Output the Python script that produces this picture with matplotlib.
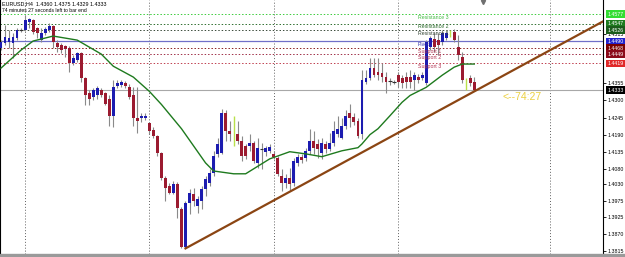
import numpy as np
import pandas as pd
from matplotlib import pyplot as plt

# EURUSD H4 candles, oldest first
opens = [1.4468, 1.4485, 1.4488, 1.4485, 1.4501, 1.4527, 1.4527, 1.4553, 1.4559, 1.4533,
         1.4494, 1.4517, 1.4527, 1.4540, 1.4485, 1.4478, 1.4475, 1.4468, 1.4420, 1.4430,
         1.4452, 1.4371, 1.4323, 1.4310, 1.4316, 1.4332, 1.4323, 1.4306, 1.4251, 1.4345,
         1.4349, 1.4355, 1.4342, 1.4316, 1.4245, 1.4245, 1.4245, 1.4226, 1.4206, 1.4186,
         1.4132, 1.4051, 1.4025, 1.4002, 1.4031, 1.3950, 1.3830, 1.3970, 1.3999, 1.3960,
         1.3976, 1.4015, 1.4034, 1.4067, 1.4128, 1.4132, 1.4261, 1.4203, 1.4203, 1.4193,
         1.4171, 1.4154, 1.4154, 1.4164, 1.4099, 1.4144, 1.4135, 1.4138, 1.4128, 1.4115,
         1.4057, 1.4034, 1.4051, 1.4034, 1.4099, 1.4119, 1.4115, 1.4138, 1.4171, 1.4161,
         1.4132, 1.4161, 1.4144, 1.4164, 1.4193, 1.4180, 1.4219, 1.4258, 1.4248, 1.4235,
         1.4193, 1.4358, 1.4371, 1.4404, 1.4391, 1.4387, 1.4375, 1.4362, 1.4358, 1.4381,
         1.4371, 1.4375, 1.4375, 1.4365, 1.4375, 1.4371, 1.4355, 1.4472, 1.4498, 1.4494,
         1.4488, 1.4501, 1.4515, 1.4520, 1.4472, 1.4439, 1.4365, 1.4371, 1.4360]
highs = [1.4494, 1.4543, 1.4527, 1.4517, 1.4533, 1.4533, 1.4575, 1.4566, 1.4562, 1.4537,
         1.4533, 1.4537, 1.4549, 1.4543, 1.4494, 1.4485, 1.4478, 1.4475, 1.4446, 1.4456,
         1.4456, 1.4375, 1.4332, 1.4339, 1.4345, 1.4339, 1.4326, 1.4316, 1.4365, 1.4365,
         1.4365, 1.4362, 1.4352, 1.4342, 1.4342, 1.4261, 1.4258, 1.4232, 1.4213, 1.4190,
         1.4135, 1.4057, 1.4034, 1.4041, 1.4038, 1.3957, 1.3976, 1.4015, 1.4018, 1.3992,
         1.4025, 1.4057, 1.4080, 1.4138, 1.4180, 1.4274, 1.4268, 1.4235, 1.4251, 1.4235,
         1.4186, 1.4161, 1.4193, 1.4171, 1.4180, 1.4164, 1.4154, 1.4161, 1.4138, 1.4122,
         1.4080, 1.4064, 1.4083, 1.4115, 1.4128, 1.4128, 1.4148, 1.4209, 1.4203, 1.4177,
         1.4180, 1.4171, 1.4196, 1.4235, 1.4251, 1.4245, 1.4268, 1.4290, 1.4258, 1.4242,
         1.4397, 1.4397, 1.4436, 1.4436, 1.4436, 1.4420, 1.4391, 1.4371, 1.4365, 1.4391,
         1.4381, 1.4391, 1.4397, 1.4391, 1.4384, 1.4391, 1.4494, 1.4507, 1.4517, 1.4517,
         1.4527, 1.4524, 1.4527, 1.4530, 1.4511, 1.4456, 1.4371, 1.4381, 1.4375]
lows = [1.4462, 1.4478, 1.4468, 1.4436, 1.4494, 1.4520, 1.4524, 1.4533, 1.4514, 1.4501,
        1.4488, 1.4511, 1.4520, 1.4468, 1.4456, 1.4452, 1.4439, 1.4391, 1.4413, 1.4423,
        1.4358, 1.4284, 1.4284, 1.4300, 1.4306, 1.4310, 1.4284, 1.4219, 1.4213, 1.4339,
        1.4342, 1.4339, 1.4303, 1.4219, 1.4196, 1.4229, 1.4238, 1.4193, 1.4180, 1.4122,
        1.4044, 1.3976, 1.3999, 1.3999, 1.3921, 1.3824, 1.3824, 1.3934, 1.3960, 1.3937,
        1.3950, 1.3992, 1.4025, 1.4057, 1.4119, 1.4128, 1.4171, 1.4171, 1.4154, 1.4161,
        1.4106, 1.4112, 1.4138, 1.4099, 1.4083, 1.4080, 1.4122, 1.4132, 1.4112, 1.4057,
        1.4008, 1.4018, 1.4008, 1.4025, 1.4089, 1.4099, 1.4106, 1.4128, 1.4128, 1.4115,
        1.4112, 1.4132, 1.4138, 1.4154, 1.4183, 1.4177, 1.4209, 1.4213, 1.4222, 1.4180,
        1.4177, 1.4352, 1.4365, 1.4375, 1.4365, 1.4358, 1.4323, 1.4349, 1.4352, 1.4342,
        1.4339, 1.4339, 1.4339, 1.4332, 1.4355, 1.4365, 1.4349, 1.4462, 1.4456, 1.4446,
        1.4478, 1.4494, 1.4504, 1.4488, 1.4430, 1.4355, 1.4332, 1.4345, 1.4329]
closes = [1.4488, 1.4504, 1.4501, 1.4504, 1.4527, 1.4528, 1.4559, 1.4562, 1.4520, 1.4517,
          1.4517, 1.4530, 1.4540, 1.4488, 1.4472, 1.4462, 1.4465, 1.4420, 1.4436, 1.4452,
          1.4371, 1.4316, 1.4306, 1.4332, 1.4339, 1.4316, 1.4290, 1.4251, 1.4342, 1.4355,
          1.4358, 1.4345, 1.4310, 1.4242, 1.4235, 1.4251, 1.4251, 1.4203, 1.4186, 1.4132,
          1.4051, 1.4018, 1.4002, 1.4031, 1.3953, 1.3830, 1.3970, 1.4002, 1.3976, 1.3983,
          1.4015, 1.4047, 1.4067, 1.4122, 1.4161, 1.4261, 1.4203, 1.4193, 1.4200, 1.4171,
          1.4122, 1.4122, 1.4164, 1.4106, 1.4148, 1.4145, 1.4148, 1.4151, 1.4119, 1.4064,
          1.4034, 1.4051, 1.4031, 1.4106, 1.4119, 1.4109, 1.4138, 1.4171, 1.4148, 1.4144,
          1.4164, 1.4144, 1.4164, 1.4203, 1.4209, 1.4219, 1.4251, 1.4245, 1.4229, 1.4186,
          1.4365, 1.4371, 1.4404, 1.4381, 1.4381, 1.4375, 1.4358, 1.4361, 1.4359, 1.4358,
          1.4355, 1.4358, 1.4358, 1.4381, 1.4365, 1.4381, 1.4488, 1.4501, 1.4472, 1.4478,
          1.4517, 1.4517, 1.4514, 1.4494, 1.4446, 1.4365, 1.4364, 1.4355, 1.4333]
# bars painted yellow-green by an indicator
marked = [58, 112, 116]

# moving average, sampled along the green curve
ma_bar = [0, 5, 8, 13, 19, 25, 28, 33, 37, 40, 45, 48, 51, 53, 58, 61, 67, 72, 76, 80,
          85, 89, 90, 92, 94, 97, 100, 102, 106, 110, 113, 115, 118]
ma_val = [1.4404, 1.4462, 1.4491, 1.4507, 1.4494, 1.4449, 1.4410, 1.4375, 1.4329, 1.4287,
          1.4209, 1.4154, 1.4099, 1.4073, 1.4064, 1.4064, 1.4112, 1.4135, 1.4128, 1.4119,
          1.4138, 1.4148, 1.4160, 1.4190, 1.4209, 1.4251, 1.4294, 1.4316, 1.4342, 1.4381,
          1.4407, 1.4417, 1.4417]

# pivot levels
level_names = ['Resistance 3', 'Resistance 2', 'Resistance 1', 'Pivot',
               'Support 1', 'Support 2', 'Support 3']
level_vals = [1.4577, 1.4547, 1.4526, 1.4490, 1.4468, 1.4449, 1.4419]
bid = 1.4333

# trend line anchors (bar, price)
trend_bars = [46, 118]
trend_prices = [1.3824, 1.4329]

# price scale labels
tick_vals = [1.4515, 1.4355, 1.4300, 1.4245, 1.4190, 1.4135, 1.4080, 1.4030,
             1.3975, 1.3925, 1.3870, 1.3815]
grid_bars = [6, 37, 68, 99, 137]

df = pd.DataFrame({'open': opens, 'high': highs, 'low': lows, 'close': closes})
df['bar'] = np.arange(len(df))

#################################
#          the chart
#################################
plt.rcParams['font.family'] = ['Liberation Sans', 'DejaVu Sans']
W, H = 625, 257
fig = plt.figure(figsize=(W / 100, H / 100), dpi=100, facecolor='white')
ax = fig.add_axes([0, 3 / H, 603 / W, 254 / H])
ax.set_xlim(-0.25, 150.1)
ax.set_ylim(1.3806, 1.4623)

# grey strip at the very bottom
fig.patches.append(plt.Rectangle((0, 0), 1, 3 / H, transform=fig.transFigure,
                                 color='#9a9a9a', zorder=0))

for b in grid_bars:
    ax.axvline(b, color='#606060', lw=0.7, ls=(0, (1, 2)), zorder=1)

lvl_line = ['#3ccc3c', '#2e6e2e', '#3a4a3a', '#7070c8', '#8b2020', '#a03048', '#c04050']
lvl_text = ['#44bb44', '#2e6b2e', '#334433', '#3030a8', '#b03050', '#b03050', '#b03050']
lvl_box = ['#33dd33', '#1e7b1e', '#1a5c1a', '#2222cc', '#7a0000', '#8b0a1a', '#e02828']
for name, v, lc, tc, bc in zip(level_names, level_vals, lvl_line, lvl_text, lvl_box):
    if name == 'Pivot':
        ax.axhline(v, color=lc, lw=0.9, zorder=1)
    else:
        ax.axhline(v, color=lc, lw=0.7, ls=(0, (1.5, 2)), zorder=1)
    ax.text(104, v - 0.0002, name, color=tc, fontsize=3.8, va='top', ha='left', zorder=6)
    ax.text(1.007, v, f'{v:.4f}', transform=ax.get_yaxis_transform(), color='white',
            fontsize=3.8, va='center', ha='left', clip_on=False, zorder=7,
            bbox=dict(boxstyle='square,pad=0.25', fc=bc, ec='none'))

ax.axhline(bid, color='#a8a8a8', lw=0.8, zorder=1)
ax.text(1.007, bid, f'{bid:.4f}', transform=ax.get_yaxis_transform(), color='white',
        fontsize=3.8, va='center', ha='left', clip_on=False, zorder=7,
        bbox=dict(boxstyle='square,pad=0.25', fc='black', ec='none'))

# candles
for r in df.itertuples():
    if r.bar in marked:
        ax.vlines(r.bar, r.low, r.high, color='#b8e04a', lw=1.0, zorder=3)
        continue
    up = r.close >= r.open
    ax.vlines(r.bar, r.low, r.high, color='#8a8a8a', lw=0.8, zorder=2)
    body = abs(r.close - r.open)
    if body < 0.0003:
        ax.hlines(r.open, r.bar - 0.4, r.bar + 0.4, color='#303030', lw=0.8, zorder=3)
    else:
        ax.bar(r.bar, body, bottom=min(r.open, r.close), width=0.72,
               color='#1c1cb0' if up else '#9b1b30', lw=0, zorder=3)

ax.plot(ma_bar, ma_val, color='#1e7a1e', lw=1.0, zorder=4)

# trend line, extended to the right edge
slope = (trend_prices[1] - trend_prices[0]) / (trend_bars[1] - trend_bars[0])
x_end = ax.get_xlim()[1]
ax.plot([trend_bars[0], x_end],
        [trend_prices[0], trend_prices[0] + slope * (x_end - trend_bars[0])],
        color='#8b4513', lw=1.6, zorder=5)

ax.text(125, 1.4312, '<--74:27', color='#ecd040', fontsize=7.5, va='center', ha='left')
ax.plot([120.3], [1.4617], marker='v', color='#707070', ms=3, zorder=6)

ax.text(0.004, 0.995, 'EURUSD,H4  1.4360 1.4375 1.4329 1.4333', transform=ax.transAxes,
        fontsize=3.9, va='top', ha='left')
ax.text(0.004, 0.968, '74 minutes 27 seconds left to bar end', transform=ax.transAxes,
        fontsize=3.6, va='top', ha='left')

ax.yaxis.tick_right()
ax.set_yticks(tick_vals)
ax.set_yticklabels([f'{v:.4f}' for v in tick_vals])
ax.tick_params(axis='y', length=2, width=0.6, labelsize=3.8, pad=1.5, colors='black')
ax.set_xticks([])
for s in ax.spines.values():
    s.set_linewidth(0.8)
    s.set_color('black')
ax.spines['bottom'].set_visible(False)
ax.spines['top'].set_visible(False)

plt.savefig('out.png', dpi=100)
